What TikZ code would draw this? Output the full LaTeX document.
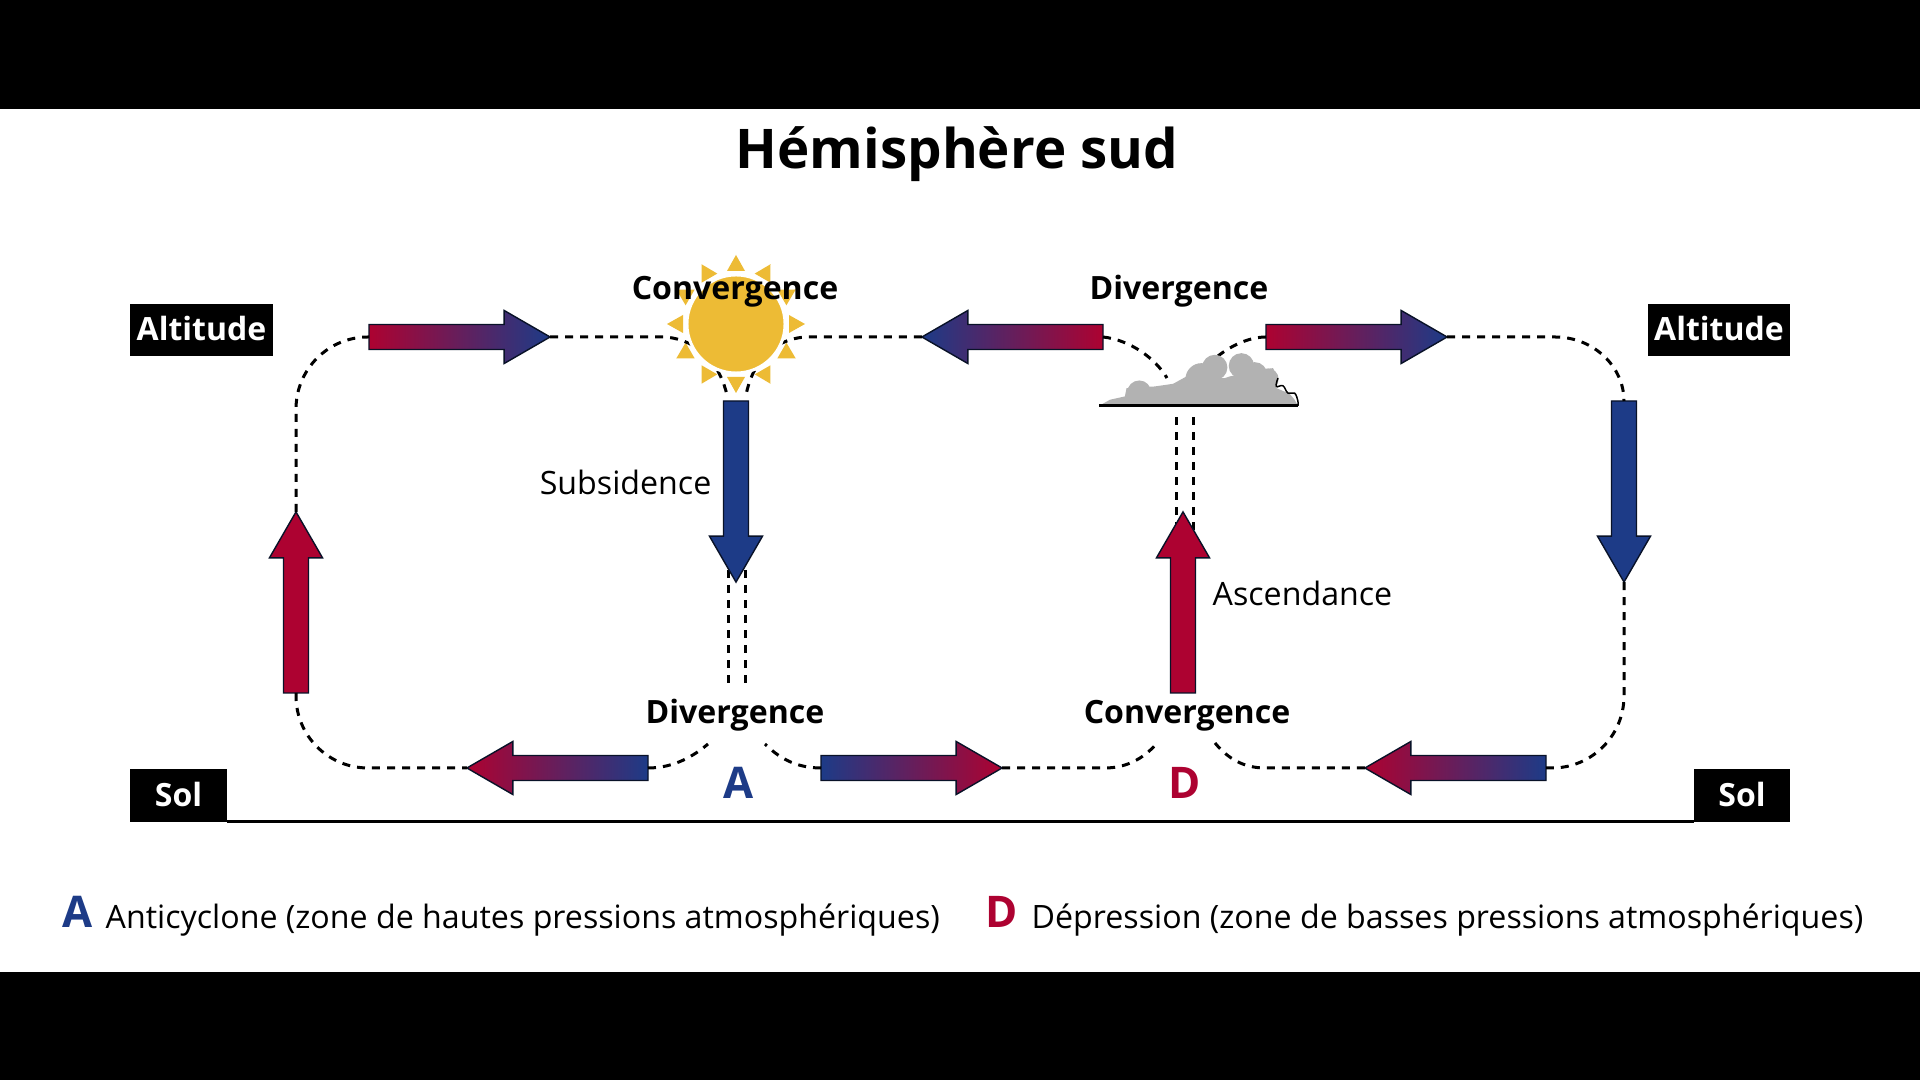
\documentclass[tikz,border=0pt]{standalone}
\usepackage{fontspec}
\setmainfont{Open Sans}
\usetikzlibrary{arrows.meta,positioning,calc,shapes.arrows}
\definecolor{flowred}{HTML}{AD0231}
\definecolor{flowblue}{HTML}{1D3B87}
\definecolor{sunyellow}{HTML}{EDBB35}
\definecolor{cloudgray}{HTML}{B2B2B2}
\tikzset{
  flow/.style={single arrow, draw=black!70!flowblue, line width=0.4pt, minimum height=1.81cm,
    inner sep=0.118cm, single arrow head extend=0.14cm, single arrow tip angle=60,
    outer sep=0pt, anchor=tail},
  flowright/.style={flow, left color=flowred, right color=flowblue},
  flowleft/.style={flow, shape border rotate=180, left color=flowblue, right color=flowred},
  groundright/.style={flow, left color=flowblue, right color=flowred},
  groundleft/.style={flow, shape border rotate=180, left color=flowred, right color=flowblue},
  sinking/.style={flow, shape border rotate=270, fill=flowblue},
  rising/.style={flow, shape border rotate=90, fill=flowred},
  circuit/.style={line width=0.03cm, dash pattern=on 0.08cm off 0.07cm},
  tag/.style={fill=black, text=white, font=\fontsize{9.1}{11}\bfseries\selectfont, text height=0.22cm,
    text depth=0pt, inner sep=0pt, outer sep=0pt, minimum height=0.52cm},
  zone/.style={font=\fontsize{9.12}{11}\bfseries\selectfont, anchor=base, inner sep=0pt},
  plain/.style={font=\fontsize{9.15}{11}\selectfont, inner sep=0pt},
  letter/.style={font=\fontsize{12.4}{14}\bfseries\selectfont, anchor=base, inner sep=0pt},
}
\begin{document}
\begin{tikzpicture}[x=0.01cm,y=-0.01cm]
    % Page
    \useasboundingbox (0,0) rectangle (1920,1080);
    \fill[black] (0,0) rectangle (1920,1080);
    \fill[white] (0,109) rectangle (1920,972);
    \node[font=\fontsize{15.55}{18}\bfseries\selectfont, anchor=base, inner sep=0pt] (title) at (957,169) {Hémisphère sud};

    % Ground and tags
    \node[tag, minimum width=1.43cm] (altleft) at (201.5,330) {Altitude};
    \node[tag, minimum width=1.42cm] (altright) at (1719,330) {Altitude};
    \node[tag, minimum width=0.97cm] (solleft) at (178.5,795.5) {Sol};
    \node[tag, minimum width=0.96cm] (solright) at (1742,795.5) {Sol};
    \draw[line width=0.03cm] ([yshift=0.005cm]solleft.south east) -- ([yshift=0.005cm]solright.south west);

    % Double dotted columns
    \coordinate (subleft) at (728,570);
    \coordinate (subright) at (745,570);
    \coordinate (divleft) at (728,683);
    \coordinate (divright) at (745,683);
    \coordinate (ascleft) at (1176,530);
    \coordinate (ascright) at (1193,530);
    \coordinate (cloudleft) at (1176,413);
    \coordinate (cloudright) at (1193,413);
    \draw[circuit] (subleft) -- (divleft);
    \draw[circuit] (subright) -- (divright);
    \draw[circuit] (ascleft) -- (cloudleft);
    \draw[circuit] (ascright) -- (cloudright);

    % Flow arrows
    \node[flowright] (topone) at (369,337) {};
    \node[flowleft] (toptwo) at (1103,337) {};
    \node[flowright] (topthree) at (1266,337) {};
    \node[groundleft] (lowone) at (648,768) {};
    \node[groundright] (lowtwo) at (821,768) {};
    \node[groundleft] (lowthree) at (1546,768) {};
    \node[sinking] (subsidence) at (736,401) {};
    \node[sinking] (sinkright) at (1624,401) {};
    \node[rising] (riseleft) at (296,693) {};
    \node[rising] (ascendance) at (1183,693) {};

    % Sun rays
    \foreach \ang in {0,30,...,330}
      \fill[sunyellow, shift={(736,324)}, rotate=\ang] (0,-69) -- (-9,-53) -- (9,-53) -- cycle;

    % Outer circuit
    \draw[circuit, rounded corners=0.72cm] (riseleft.tip) |- (topone.tail);
    \draw[circuit] (topthree.tip) -- (1555,337) .. controls (1594,337) and (1624,367) .. (sinkright.tail);
    \draw[circuit, rounded corners=0.72cm] (riseleft.tail) |- (lowone.tip);
    \draw[circuit, rounded corners=0.72cm] (sinkright.tip) |- (lowthree.tail);

    % Into the subsidence arrow
    \coordinate (sunleft) at (727,395);
    \coordinate (sunright) at (746,395);
    \draw[circuit] (topone.tip) -- (665,337) .. controls (700,340) and (720,365) .. (sunleft);
    \draw[circuit] (toptwo.tip) -- (805,337) .. controls (770,340) and (752,365) .. (sunright);

    % Out of the cloud
    \coordinate (cloudin) at (1167,378);
    \coordinate (cloudout) at (1218,356);
    \draw[circuit] (toptwo.tail) .. controls (1130,340) and (1155,358) .. (cloudin);
    \draw[circuit] (topthree.tail) .. controls (1250,337) and (1232,345) .. (cloudout);

    % Around A and D
    \coordinate (highleft) at (708,744);
    \coordinate (highright) at (765,744);
    \coordinate (lowleft) at (1157,743);
    \coordinate (lowright) at (1215,743);
    \draw[circuit] (lowone.tail) .. controls (675,768) and (695,755) .. (highleft);
    \draw[circuit] (lowtwo.tail) .. controls (795,768) and (778,757) .. (highright);
    \draw[circuit] (lowtwo.tip) -- (1105,768) .. controls (1130,768) and (1147,755) .. (lowleft);
    \draw[circuit] (lowthree.tip) -- (1265,768) .. controls (1240,768) and (1225,755) .. (lowright);

    % Sun
    \node[circle, fill=sunyellow, draw=white, line width=0.03cm, minimum size=0.98cm, inner sep=0pt] (sun) at (736,324) {};

    % Cloud
    \begin{scope}[shift={(1060,260)},x=0.00333cm,y=-0.00333cm]
      \fill[cloudgray] (118,438) -- (150,420) -- (195,410) -- (200,385) -- (285,380) -- (340,372) -- (380,350) -- (495,355) -- (510,350) -- (600,330) -- (640,325) -- (655,355) -- (650,385) -- (690,402) -- (705,420) -- (715,438) -- cycle;
      \fill[cloudgray] (238,398) circle (36);
      \fill[cloudgray] (425,358) circle (48);
      \fill[cloudgray] (465,323) circle (38);
      \fill[cloudgray] (545,318) circle (38);
      \fill[cloudgray] (585,345) circle (38);
      \fill[cloudgray] (625,358) circle (32);
      \draw[line width=0.03cm] (118,438) -- (715,438);
      \draw[line width=0.015cm] plot[smooth, tension=0.7] coordinates {(655,355) (650,380) (670,378) (685,400) (705,400) (715,425) (715,438)};
    \end{scope}

    % Zone labels
    \node[zone] (convtop) at (735,300) {Convergence};
    \node[zone] (divtop) at (1179,300) {Divergence};
    \node[zone] (divlow) at (735,724) {Divergence};
    \node[zone] (convlow) at (1187,724) {Convergence};
    \node[plain, anchor=east] (sublabel) at (712,482) {Subsidence};
    \node[plain, anchor=west] (asclabel) at (1212,593) {Ascendance};
    \node[letter, text=flowblue] (high) at (739,799) {A};
    \node[letter, text=flowred] (low) at (1185,799) {D};

    % Legend
    \node[letter, text=flowblue] (legendA) at (78,928) {A};
    \node[plain, anchor=base west] (legendAtext) at (105,929) {Anticyclone (zone de hautes pressions atmosphériques)};
    \node[letter, text=flowred] (legendD) at (1002,928) {D};
    \node[plain, anchor=base west] (legendDtext) at (1031,929) {Dépression (zone de basses pressions atmosphériques)};
\end{tikzpicture}
\end{document}
